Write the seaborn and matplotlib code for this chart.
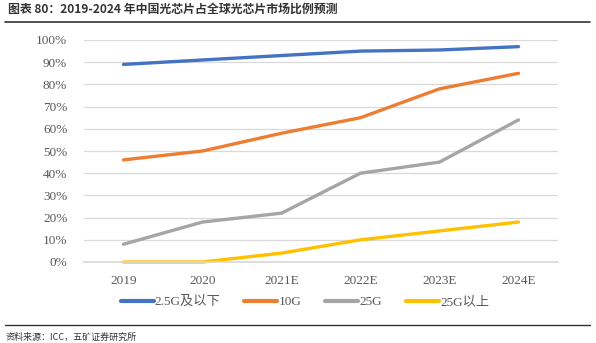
import matplotlib
matplotlib.use("Agg")
import matplotlib.pyplot as plt
import seaborn as sns
import pandas as pd
from matplotlib.ticker import PercentFormatter

years = ["2019", "2020", "2021E", "2022E", "2023E", "2024E"]
series_names = ["2.5G及以下", "10G", "25G", "25G以上"]
s_25g_below = [0.89, 0.91, 0.93, 0.95, 0.955, 0.97]
s_10g = [0.46, 0.50, 0.58, 0.65, 0.78, 0.85]
s_25g = [0.08, 0.18, 0.22, 0.40, 0.45, 0.64]
s_25g_above = [0.00, 0.00, 0.04, 0.10, 0.14, 0.18]
colors = ["#4472C4", "#ED7D31", "#A5A5A5", "#FFC000"]

title = "图表 80：2019-2024 年中国光芯片占全球光芯片市场比例预测"
source = "资料来源：ICC，五矿证券研究所"

rows = []
for name, vals in zip(series_names, [s_25g_below, s_10g, s_25g, s_25g_above]):
    for i, (y, v) in enumerate(zip(years, vals)):
        rows.append({"x": i, "year": y, "value": v, "series": name})
df = pd.DataFrame(rows)

sns.set_theme(style="white")
plt.rcParams["font.family"] = ["Liberation Serif", "Noto Sans CJK SC"]

fig = plt.figure(figsize=(5.96, 3.43), dpi=100)
ax = fig.add_axes([84/596, 1-262/343, 474/596, 222/343])

sns.lineplot(data=df, x="x", y="value", hue="series", hue_order=series_names,
             palette=colors, linewidth=2.4, ax=ax, legend=True, clip_on=False)

ax.set_xlim(-0.5, 5.5)
ax.set_ylim(0, 1.0)
ax.set_yticks([i/10 for i in range(11)])
ax.yaxis.set_major_formatter(PercentFormatter(1.0, decimals=0))
ax.set_xticks(range(len(years)))
ax.set_xticklabels(years)
ax.grid(axis="y", color="#D9D9D9", linewidth=0.9)
ax.set_axisbelow(True)
for sp in ["top", "right", "left"]:
    ax.spines[sp].set_visible(False)
ax.spines["bottom"].set_color("#D9D9D9")
ax.tick_params(axis="both", length=0, labelsize=9.5, labelcolor="#595959")
ax.tick_params(axis="y", pad=12)
ax.tick_params(axis="x", pad=9)
ax.set_xlabel("")
ax.set_ylabel("")

leg = ax.legend(loc="center", bbox_to_anchor=(305/596, 1-302/343),
                bbox_transform=fig.transFigure, ncol=4, frameon=False,
                fontsize=9.5, handlelength=2.5, handletextpad=0.1,
                columnspacing=1.8)
for t in leg.get_texts():
    t.set_color("#595959")
for h in leg.get_lines():
    h.set_linewidth(3)

fig.text(8/596, 1-9/343, title, fontsize=8.6, color="#333333", fontweight="bold",
         family=["Noto Sans CJK SC", "DejaVu Sans"], va="center", ha="left")
fig.add_artist(plt.Line2D([5/596, 590/596], [1-22/343, 1-22/343],
                          color="#333333", linewidth=1.2))
fig.add_artist(plt.Line2D([5/596, 590/596], [1-325/343, 1-325/343],
                          color="#333333", linewidth=1.0))
fig.text(6/596, 1-337/343, source, fontsize=6.5, color="#333333",
         family=["Noto Sans CJK SC", "DejaVu Sans"], va="center", ha="left")

fig.savefig("out.png", dpi=100)
